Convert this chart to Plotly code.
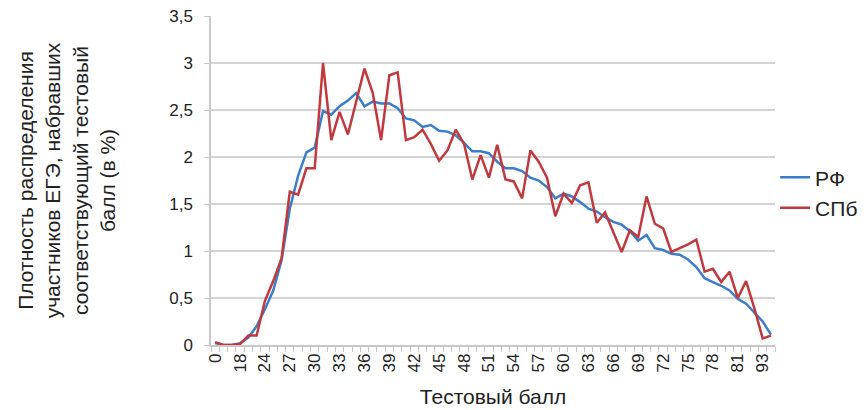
import plotly.graph_objects as go

# тестовые баллы (категории оси X)
scores = [0, 14, 16, 18, 20, 22] + list(range(24, 82)) + [84, 88, 93, 100]
tick_labels = ["0", "18"] + [str(s) for s in range(24, 82, 3)] + ["93"]

rf = [0.02, 0.0, 0.0, 0.02, 0.08, 0.2, 0.38, 0.58, 0.9, 1.45, 1.8, 2.05,
      2.10, 2.49, 2.45, 2.54, 2.60, 2.68, 2.54, 2.59, 2.57, 2.57, 2.52, 2.41,
      2.39, 2.32, 2.34, 2.28, 2.27, 2.23, 2.15, 2.06, 2.06, 2.04, 1.95, 1.88,
      1.88, 1.85, 1.78, 1.75, 1.68, 1.56, 1.61, 1.58, 1.52, 1.45, 1.42, 1.36,
      1.31, 1.28, 1.21, 1.11, 1.17, 1.03, 1.01, 0.97, 0.96, 0.91, 0.83, 0.71,
      0.67, 0.63, 0.58, 0.49, 0.44, 0.34, 0.25, 0.11]

spb = [0.03, 0.0, 0.0, 0.01, 0.1, 0.1, 0.47, 0.68, 0.92, 1.63, 1.6, 1.88,
       1.88, 3.0, 2.18, 2.48, 2.24, 2.58, 2.94, 2.68, 2.18, 2.87, 2.90, 2.18,
       2.21, 2.29, 2.14, 1.96, 2.07, 2.29, 2.14, 1.76, 2.02, 1.78, 2.13, 1.76,
       1.74, 1.56, 2.07, 1.95, 1.78, 1.37, 1.61, 1.51, 1.70, 1.73, 1.30, 1.41,
       1.19, 0.99, 1.22, 1.15, 1.58, 1.29, 1.24, 0.99, 1.03, 1.07, 1.12, 0.78,
       0.81, 0.67, 0.78, 0.50, 0.68, 0.39, 0.07, 0.10]

cats = [str(s) for s in scores]
ticktext = [str(s) if str(s) in tick_labels and (i % 3 == 0) else "" for i, s in enumerate(scores)]

fig = go.Figure()
fig.add_trace(go.Scatter(x=cats, y=rf, mode="lines", name="РФ",
                         line=dict(color="#3b7dc8", width=2.5)))
fig.add_trace(go.Scatter(x=cats, y=spb, mode="lines", name="СПб",
                         line=dict(color="#c0393f", width=2.5)))

fig.update_xaxes(type="category", range=[-0.5, len(cats) - 0.5], automargin=False,
                 tickmode="array", tickvals=cats, ticktext=ticktext,
                 tickson="boundaries", ticks="outside", ticklen=5,
                 tickcolor="#c8c8c8", tickangle=-90, showgrid=False,
                 showline=True, linecolor="#c8c8c8", linewidth=1.5,
                 tickfont=dict(size=17, color="#222"),
                 title=dict(text="Тестовый балл", font=dict(size=21, color="#222"), standoff=18))
fig.update_yaxes(range=[0, 3.5], dtick=0.5, ticks="outside", ticklen=5, automargin=False,
                 tickcolor="#c8c8c8", showgrid=True, gridcolor="#d4d4d4", gridwidth=1.5,
                 showline=True, linecolor="#c8c8c8", linewidth=1.5, zeroline=False,
                 ticklabelstandoff=8,
                 tickfont=dict(size=17, color="#222"),
                 title=dict(text="Плотность распределения<br>участников ЕГЭ, набравших<br>"
                                 "соответствующий тестовый<br>балл (в %)",
                            font=dict(size=21, color="#222"), standoff=48))

fig.update_layout(width=868, height=410, separators=", ",
                  margin=dict(l=211, r=91, t=16, b=65),
                  paper_bgcolor="white", plot_bgcolor="white",
                  font=dict(family="Liberation Sans, Arial", color="#222"),
                  legend=dict(xref="container", yref="container",
                              x=0.893, xanchor="left", y=0.53, yanchor="middle",
                              font=dict(size=21), bgcolor="rgba(0,0,0,0)",
                              tracegroupgap=0))

fig.write_html("out.html",
               config={"displayModeBar": False, "responsive": False},
               post_script="document.body.style.margin='0';document.body.style.overflow='hidden';")
